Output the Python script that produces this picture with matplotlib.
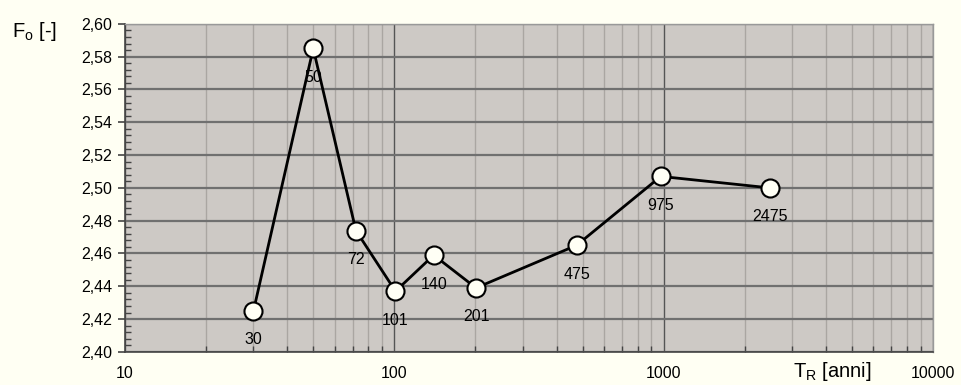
import numpy as np
import matplotlib
matplotlib.use("Agg")
import matplotlib.pyplot as plt
from matplotlib.ticker import FixedLocator, LogLocator, NullFormatter, FuncFormatter

plt.rcParams["font.family"] = ["Liberation Sans", "DejaVu Sans"]

# return period [years] and corresponding F_o value
tr = [30, 50, 72, 101, 140, 201, 475, 975, 2475]
fo = [2.425, 2.585, 2.474, 2.437, 2.459, 2.439, 2.465, 2.507, 2.500]
tr_labels = ["30", "50", "72", "101", "140", "201", "475", "975", "2475"]

BG = "#fffff3"
PLOT_BG = "#cdc9c5"

fig = plt.figure(figsize=(9.61, 3.85), dpi=100, facecolor=BG)
ax = fig.add_axes([0.130, 0.086, 0.841, 0.852])
ax.set_facecolor(PLOT_BG)

ax.set_xscale("log")
ax.set_xlim(10, 10000)
ax.set_ylim(2.40, 2.60)

ax.yaxis.set_major_locator(FixedLocator(np.arange(2.40, 2.601, 0.02)))
ax.yaxis.set_minor_locator(FixedLocator(np.arange(2.40, 2.601, 0.004)))
ax.yaxis.set_major_formatter(FuncFormatter(lambda v, p: f"{v:.2f}".replace(".", ",")))
ax.xaxis.set_major_locator(FixedLocator([10, 100, 1000, 10000]))
ax.xaxis.set_minor_locator(LogLocator(base=10, subs=np.arange(2, 10)))
ax.xaxis.set_minor_formatter(NullFormatter())
ax.xaxis.set_major_formatter(FuncFormatter(lambda v, p: f"{int(v)}"))

ax.grid(True, which="major", axis="y", color="#707070", lw=1.6)
ax.grid(True, which="minor", axis="x", color="#aaa6a2", lw=1.0)
ax.grid(True, which="major", axis="x", color="#555555", lw=1.0)
ax.set_axisbelow(True)

for side in ["top", "right"]:
    ax.spines[side].set_color("#999999")
    ax.spines[side].set_linewidth(1.0)
for side in ["left", "bottom"]:
    ax.spines[side].set_color("#444444")
    ax.spines[side].set_linewidth(1.2)

ax.tick_params(axis="y", which="major", direction="out", length=5, width=1.2,
               color="#444444", labelsize=11.5, pad=4)
ax.tick_params(axis="y", which="minor", direction="in", length=4, width=1,
               color="#444444")
ax.tick_params(axis="x", which="major", direction="out", length=0,
               labelsize=11.5, pad=10)
ax.tick_params(axis="x", which="minor", direction="in", length=4, width=1,
               color="#444444")

ax.plot(tr, fo, color="black", lw=2, marker="o", ms=13,
        mfc="#fffff5", mec="black", mew=1.5, zorder=3)

for x, y, lab in zip(tr, fo, tr_labels):
    ax.annotate(lab, (x, y), xytext=(0, -29), textcoords="offset pixels",
                ha="center", va="center", fontsize=11.5, zorder=4)

fig.text(0.012, 0.918, r"F$_\mathregular{o}$ [-]", fontsize=14.5, va="center", ha="left")
fig.text(0.825, 0.036, r"T$_\mathregular{R}$ [anni]", fontsize=14.5, va="center", ha="left")

fig.savefig("out.png", dpi=100, facecolor=BG)
